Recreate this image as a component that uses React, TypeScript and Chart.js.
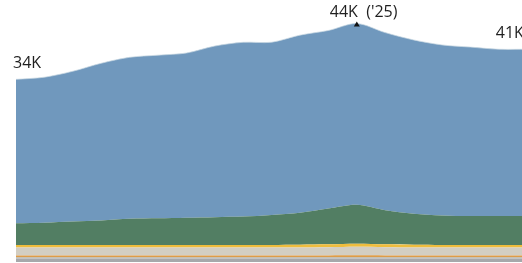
import React, { useEffect, useRef } from "react";
import { Chart, registerables } from "chart.js";

Chart.register(...registerables);

const years = [2013, 2014, 2015, 2016, 2017, 2018, 2019, 2020, 2021, 2022, 2023, 2024, 2025, 2026, 2027, 2028, 2029, 2030, 2031];
const blueSeries = [26.9, 27.2, 28.1, 29.4, 30.2, 30.5, 30.8, 32.0, 32.6, 32.3, 33.2, 33.3, 33.9, 33.2, 32.5, 31.9, 31.6, 31.2, 31.2];
const greenSeries = [4.1, 4.2, 4.4, 4.6, 4.9, 5.0, 5.1, 5.2, 5.3, 5.6, 6.0, 6.7, 7.3, 6.4, 5.8, 5.5, 5.4, 5.4, 5.4];
const yellowSeries = [0.45, 0.45, 0.46, 0.46, 0.47, 0.47, 0.47, 0.48, 0.48, 0.49, 0.5, 0.52, 0.55, 0.52, 0.5, 0.49, 0.48, 0.48, 0.48];
const lightBeigeSeries = [1.5, 1.5, 1.5, 1.5, 1.5, 1.5, 1.5, 1.5, 1.5, 1.5, 1.52, 1.55, 1.6, 1.55, 1.52, 1.5, 1.5, 1.5, 1.5];
const orangeSeries = [0.28, 0.28, 0.28, 0.28, 0.28, 0.28, 0.28, 0.28, 0.28, 0.28, 0.28, 0.3, 0.32, 0.3, 0.28, 0.28, 0.28, 0.28, 0.28];
const grayBeigeSeries = [0.28, 0.28, 0.28, 0.28, 0.28, 0.28, 0.28, 0.28, 0.28, 0.28, 0.28, 0.28, 0.28, 0.28, 0.28, 0.28, 0.28, 0.28, 0.28];
const graySeries = [0.65, 0.65, 0.65, 0.65, 0.65, 0.65, 0.65, 0.65, 0.65, 0.65, 0.65, 0.65, 0.65, 0.65, 0.65, 0.65, 0.65, 0.65, 0.65];

const labelIndices = [0, 12, 17];
const labelTexts = ["34K", "44K  ('25)", "41K"];
const peakIndex = 12;

const toPoints = (arr: number[]) => arr.map((v, i) => ({ x: years[i], y: v }));

const labelPlugin = {
  id: "endLabels",
  afterDatasetsDraw(chart: any) {
    const ctx = chart.ctx;
    const meta = chart.getDatasetMeta(chart.data.datasets.length - 1);
    ctx.save();
    ctx.font = "16px 'Open Sans'";
    ctx.fillStyle = "#1f1f1f";
    ctx.textBaseline = "alphabetic";
    ctx.textAlign = "left";
    labelIndices.forEach((idx, k) => {
      const pt = meta.data[idx];
      if (!pt) return;
      if (idx === peakIndex) {
        ctx.fillText(labelTexts[k], pt.x - 27, pt.y - 7);
        ctx.beginPath();
        ctx.moveTo(pt.x - 3, pt.y + 3);
        ctx.lineTo(pt.x + 3, pt.y + 3);
        ctx.lineTo(pt.x, pt.y - 2);
        ctx.closePath();
        ctx.fillStyle = "#111";
        ctx.fill();
        ctx.fillStyle = "#1f1f1f";
      } else {
        ctx.fillText(labelTexts[k], pt.x - 3, pt.y - 11);
      }
    });
    ctx.restore();
  },
};

export default function App() {
  const ref = useRef<HTMLCanvasElement | null>(null);
  useEffect(() => {
    if (!ref.current) return;
    const mk = (label: string, data: number[], color: string, fill: any, border = 0, borderColor = color) => ({
      label,
      data: toPoints(data),
      backgroundColor: color,
      borderColor,
      borderWidth: border,
      fill,
      pointRadius: 0,
      tension: 0.3,
    });
    const chart = new Chart(ref.current, {
      type: "line",
      data: {
        datasets: [
          mk("gray", graySeries, "#a7a8ab", "origin"),
          mk("grayBeige", grayBeigeSeries, "#c6c1b5", "-1"),
          mk("orange", orangeSeries, "#dd9c48", "-1"),
          mk("lightBeige", lightBeigeSeries, "#d3cec2", "-1"),
          mk("yellow", yellowSeries, "#efbd3d", "-1"),
          mk("green", greenSeries, "#527e63", "-1"),
          mk("blue", blueSeries, "#7098bd", "-1", 1, "rgba(200,215,225,0.7)"),
        ] as any,
      },
      options: {
        responsive: false,
        animation: false,
        layout: { padding: { left: 16, right: 0, top: 0, bottom: 1 } },
        plugins: { legend: { display: false }, tooltip: { enabled: false } },
        scales: {
          x: { type: "linear", display: false, min: 2013, max: 2013 + 506 / 28.4 },
          y: { display: false, stacked: true, min: 0, max: 49 },
        },
      },
      plugins: [labelPlugin],
    });
    return () => chart.destroy();
  }, []);
  return (
    <div style={{ position: "fixed", left: 0, top: 0, width: 522, height: 263, background: "#fff" }}>
      <canvas ref={ref} width={522} height={263} style={{ display: "block" }} />
    </div>
  );
}
